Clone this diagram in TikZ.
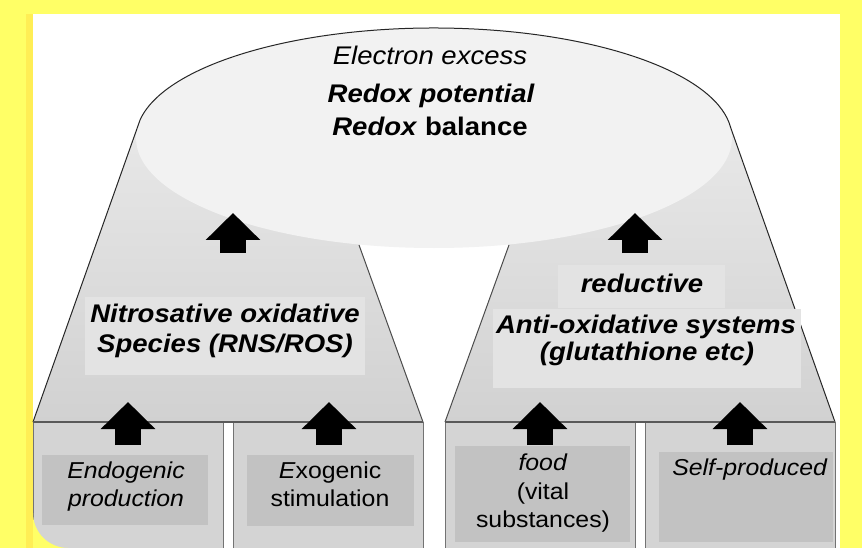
\documentclass[tikz,border=0pt]{standalone}
\usepackage{fontspec}
\setmainfont{Liberation Sans}[FakeStretch=1.08]
\usetikzlibrary{arrows.meta}
\definecolor{frameyellow}{HTML}{FFFF66}
\definecolor{edgeyellow}{HTML}{FFEE55}

\begin{document}
\begin{tikzpicture}[x=1pt,y=-1pt,
    outline/.style={draw=black!85,line width=1pt},
    innerline/.style={draw=black!70,line width=1pt},
    sepline/.style={draw=black!65,line width=1.3pt},
    upbox/.style={fill=black!11},
    lowbox/.style={fill=black!17,draw=black!55,line width=1pt},
    txtbox/.style={fill=black!24},
    itxt/.style={font=\fontsize{25.5}{30}\selectfont\itshape,anchor=base},
    bitxt/.style={font=\fontsize{25.5}{30}\selectfont\bfseries\itshape,anchor=base},
    btxt/.style={font=\fontsize{25.5}{30}\selectfont\bfseries,anchor=base},
    stxt/.style={font=\fontsize{23}{28}\selectfont,anchor=base},
    blockarrow/.style={line width=26pt,-{Triangle[width=53pt,length=27pt]}}]
    \useasboundingbox (0,0) rectangle (862,548);
    % frame
    \fill[frameyellow] (0,0) rectangle (862,548);
    \fill[edgeyellow] (26,14) rectangle (33,548);
    \fill[white] (33,14) rectangle (840,548);
    % cylinder top and the two trapezoids
    \coordinate (ec) at (434,138);
    \path (ec) ++(189.5:298 and 110) coordinate (lt);
    \path (ec) ++(354.5:298 and 110) coordinate (rt);
    \path[top color=black!9,bottom color=black!18] (lt) -- (33,422) -- (423,422) -- (325,150) -- cycle;
    \path[top color=black!9,bottom color=black!18] (rt) -- (835,422) -- (445,422) -- (543,150) -- cycle;
    \fill[black!5] (ec) ellipse [x radius=298,y radius=110];
    \draw[outline] (33,422) -- (lt) arc[start angle=189.5,end angle=354.5,x radius=298,y radius=110] -- (835,422);
    \draw[innerline] (359,245) -- (423,422);
    \draw[innerline] (509,245) -- (445,422);
    % lower boxes
    \draw[lowbox] (33,422) rectangle (223,560);
    \draw[lowbox] (233,422) rectangle (423,560);
    \draw[lowbox] (445,422) rectangle (635,560);
    \draw[lowbox] (645,422) rectangle (835,560);
    \draw[sepline] (33,422) -- (423,422);
    \draw[sepline] (445,422) -- (835,422);
    \fill[frameyellow] (33,513) arc[start angle=180,end angle=90,radius=35] -- (33,548) -- cycle;
    % text panels
    \fill[upbox] (85,297) rectangle (365,375);
    \fill[upbox] (558,265) rectangle (725,308);
    \fill[upbox] (493,309) rectangle (801,388);
    \fill[txtbox] (42,455) rectangle (208,525);
    \fill[txtbox] (247,455) rectangle (414,526);
    \fill[txtbox] (455,446) rectangle (630,542);
    \fill[txtbox] (659,452) rectangle (833,542);
    % texts
    \node[itxt] (excess) at (430,65) {Electron excess};
    \node[bitxt] (potential) at (431,103) {Redox potential};
    \node[btxt] (balance) at (430,136) {\textit{Redox} balance};
    \node[bitxt] (nitro1) at (225,322) {Nitrosative oxidative};
    \node[bitxt] (nitro2) at (225,352) {Species (RNS/ROS)};
    \node[bitxt] (reduct) at (642,292) {reductive};
    \node[bitxt] (anti1) at (646,333) {Anti-oxidative systems};
    \node[bitxt] (anti2) at (647,360) {(glutathione etc)};
    \node[stxt,font=\fontsize{23}{28}\selectfont\itshape] (endo1) at (126,478) {Endogenic};
    \node[stxt,font=\fontsize{23}{28}\selectfont\itshape] (endo2) at (126,506) {production};
    \node[stxt] (exo1) at (330,478) {\textit{E}xogenic};
    \node[stxt] (exo2) at (330,506) {stimulation};
    \node[stxt] (food1) at (543,470) {\textit{food}};
    \node[stxt] (food2) at (543,499) {(vital};
    \node[stxt] (food3) at (543,527) {substances)};
    \node[stxt] (self) at (750,475) {\textit{Self-produced}};
    % arrows
    \foreach \x [count=\i] in {233,635}{
      \coordinate (us\i) at (\x,253);
      \coordinate (ut\i) at (\x,213);
      \draw[blockarrow] (us\i) -- (ut\i);
    }
    \foreach \x [count=\i] in {128,329,540,740}{
      \coordinate (ls\i) at (\x,445);
      \coordinate (lt\i) at (\x,402);
      \draw[blockarrow] (ls\i) -- (lt\i);
    }
\end{tikzpicture}
\end{document}
